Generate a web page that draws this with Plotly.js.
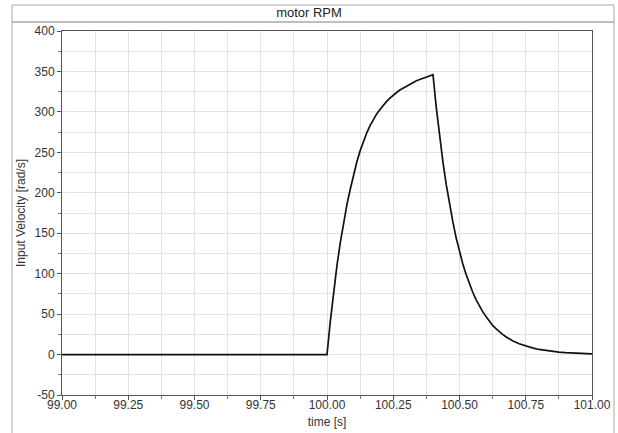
<!DOCTYPE html>
<html>
<head>
<meta charset="utf-8">
<script src="https://cdn.plot.ly/plotly-3.0.1.min.js"></script>
<style>html,body{margin:0;padding:0;background:#fff;}#chart{width:618px;height:433px;}</style>
</head>
<body>
<div id="chart"></div>
<script>
// time [s]
const timeS = [99.0, 100.0, 100.0125, 100.025, 100.0375, 100.05, 100.0625, 100.075, 100.0875, 100.1,
  100.1125, 100.125, 100.1375, 100.15, 100.1625, 100.175, 100.1875, 100.2, 100.2125, 100.225, 100.2375,
  100.25, 100.2625, 100.275, 100.2875, 100.3, 100.3125, 100.325, 100.3375, 100.35, 100.3625, 100.375, 100.3875, 100.4,
  100.4125, 100.425, 100.4375, 100.45, 100.4625, 100.475, 100.4875, 100.5, 100.5125, 100.525, 100.5375, 100.55,
  100.5625, 100.575, 100.5875, 100.6, 100.6125, 100.625, 100.6375, 100.65, 100.6625, 100.675, 100.6875, 100.7,
  100.725, 100.75, 100.775, 100.8, 100.825, 100.85, 100.875, 100.9, 100.925, 100.95, 100.975, 101.0];
// Input Velocity [rad/s]
const velocity = [0, 0, 41, 78, 110, 138, 163, 185, 204, 222,
  238, 252, 264, 274, 283, 291, 297.5, 303, 308.5, 313, 317,
  321, 324, 327, 329.5, 332, 334.5, 337, 338.5, 340, 341.5, 343, 344.5, 346,
  305, 270, 238, 210, 185, 164, 144, 127, 112, 99, 87, 77,
  68, 60, 53, 47, 41, 36, 32, 28, 25, 22, 19.5, 17,
  13.4, 10.5, 8.2, 6.3, 4.9, 3.8, 3.0, 2.3, 1.8, 1.4, 1.1, 0.9];

const yTickVals = [-50, 0, 50, 100, 150, 200, 250, 300, 350, 400];
const yTickText = ['-50', '0', '50', '100', '150', '200', '250', '300', '350', '400'];

const chartTitle = 'motor RPM';
const xTitle = 'time [s]';
const yTitle = 'Input Velocity [rad/s]';

const font = 'Liberation Sans, Arial, sans-serif';
const gridCol = '#e3e3e3';
const frameCol = '#a8a8a8';

const trace = {
  x: timeS, y: velocity, type: 'scatter', mode: 'lines',
  line: {color: '#111111', width: 1.7},
  hoverinfo: 'skip'
};

const layout = {
  width: 618, height: 433,
  margin: {l: 62, r: 26, t: 31, b: 38, pad: 0},
  paper_bgcolor: '#ffffff', plot_bgcolor: '#ffffff',
  showlegend: false,
  font: {family: font, size: 12, color: '#333333'},
  title: {text: chartTitle, x: 0.5, xanchor: 'center', xref: 'container',
          y: 1 - 12.5/433, yanchor: 'middle', yref: 'container',
          font: {family: font, size: 13, color: '#222222'}},
  xaxis: {
    range: [99, 101], dtick: 0.25, tick0: 99, tickformat: '.2f',
    showgrid: true, gridcolor: gridCol, gridwidth: 1,
    zeroline: false,
    showline: true, linecolor: '#555555', linewidth: 1, mirror: true,
    ticks: 'outside', ticklen: 4, tickcolor: '#555555',
    ticklabelstandoff: -5,
    tickfont: {family: font, size: 12, color: '#333333'},
    minor: {dtick: 0.125, showgrid: true, gridcolor: gridCol, ticks: 'outside', ticklen: 3, tickcolor: '#777777'},
    title: {text: xTitle, standoff: 6, font: {family: font, size: 12, color: '#333333'}}
  },
  yaxis: {
    range: [-50, 400], tickmode: 'array', tickvals: yTickVals, ticktext: yTickText,
    showgrid: true, gridcolor: gridCol, gridwidth: 1,
    zeroline: false,
    showline: true, linecolor: '#555555', linewidth: 1, mirror: true,
    ticks: 'outside', ticklen: 4, tickcolor: '#555555',
    tickfont: {family: font, size: 12, color: '#333333'},
    minor: {dtick: 25, tick0: 0, showgrid: true, gridcolor: gridCol, ticks: 'outside', ticklen: 3, tickcolor: '#777777'},
    title: {text: yTitle, standoff: 6, font: {family: font, size: 12, color: '#333333'}}
  },
  shapes: [
    {type: 'rect', xref: 'paper', yref: 'paper', x0: -50/530, x1: 552/530, y0: -0.2, y1: (395-5)/364,
     line: {color: frameCol, width: 1}, fillcolor: 'rgba(0,0,0,0)', layer: 'below'},
    {type: 'line', xref: 'paper', yref: 'paper', x0: -50/530, x1: 552/530, y0: (395-22)/364, y1: (395-22)/364,
     line: {color: frameCol, width: 1.5}, layer: 'below'}
  ]
};

Plotly.newPlot('chart', [trace], layout, {staticPlot: true, displayModeBar: false});
</script>
</body>
</html>
